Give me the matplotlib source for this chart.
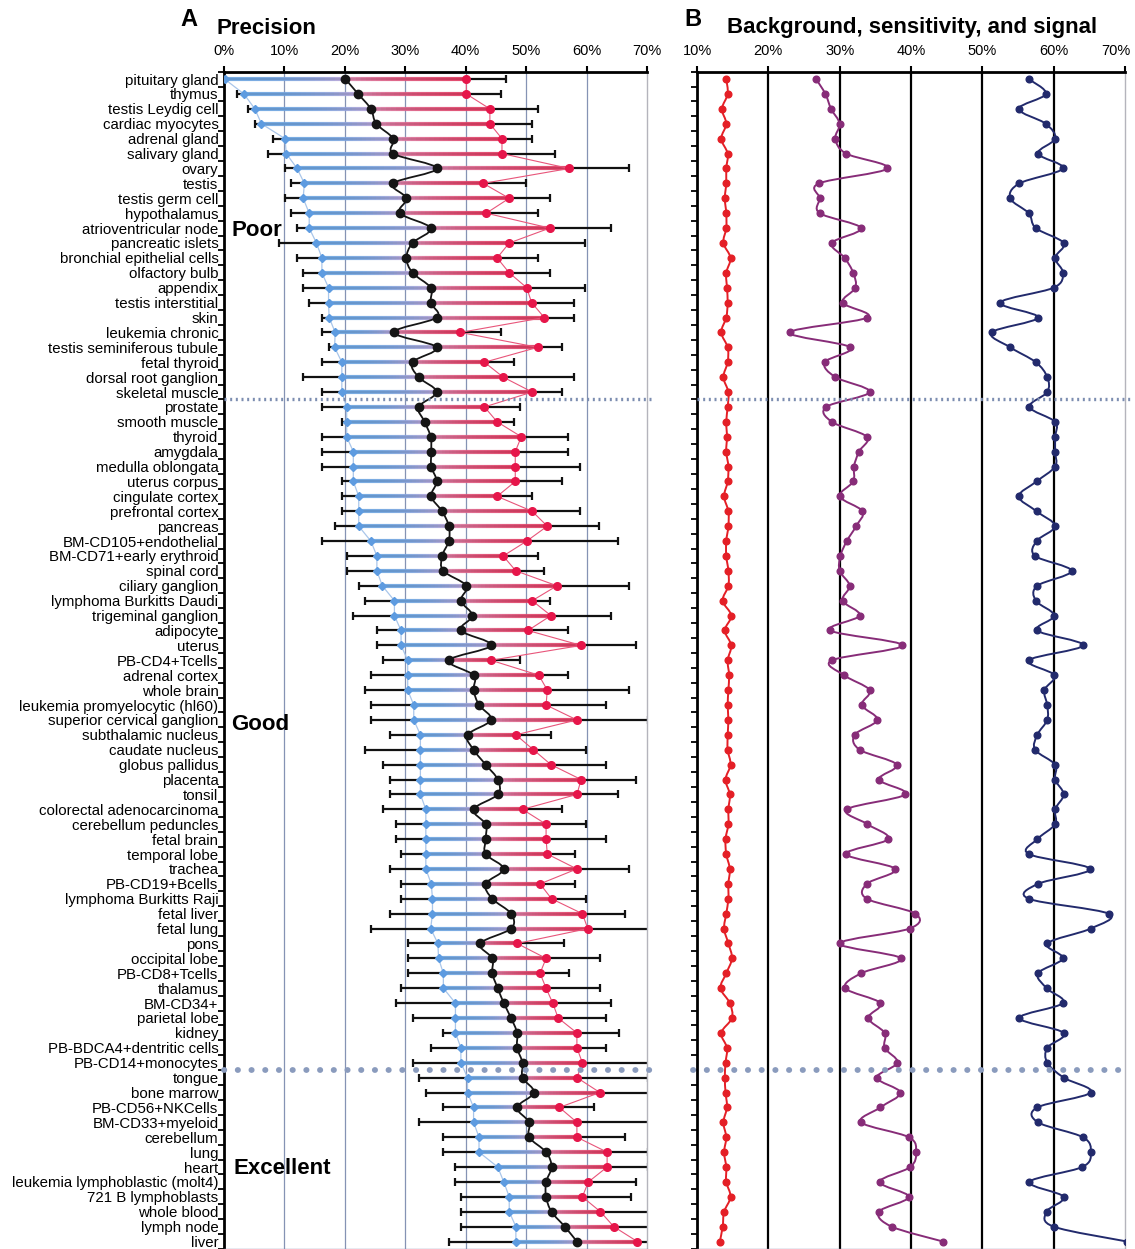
import numpy as np
import matplotlib
matplotlib.use('Agg')
import matplotlib.pyplot as plt
import matplotlib.transforms as mtransforms
from matplotlib.collections import LineCollection
from matplotlib.path import Path
from matplotlib.patches import PathPatch
from matplotlib.colors import to_rgb
from matplotlib.ticker import FixedLocator

# ---------------- data ----------------
tissues = [
    "pituitary gland", "thymus", "testis Leydig cell", "cardiac myocytes", "adrenal gland",
    "salivary gland", "ovary", "testis", "testis germ cell", "hypothalamus",
    "atrioventricular node", "pancreatic islets", "bronchial epithelial cells", "olfactory bulb",
    "appendix", "testis interstitial", "skin", "leukemia chronic", "testis seminiferous tubule",
    "fetal thyroid", "dorsal root ganglion", "skeletal muscle",
    "prostate", "smooth muscle", "thyroid", "amygdala", "medulla oblongata", "uterus corpus",
    "cingulate cortex", "prefrontal cortex", "pancreas", "BM-CD105+endothelial",
    "BM-CD71+early erythroid", "spinal cord", "ciliary ganglion", "lymphoma Burkitts Daudi",
    "trigeminal ganglion", "adipocyte", "uterus", "PB-CD4+Tcells", "adrenal cortex",
    "whole brain", "leukemia promyelocytic (hl60)", "superior cervical ganglion",
    "subthalamic nucleus", "caudate nucleus", "globus pallidus", "placenta", "tonsil",
    "colorectal adenocarcinoma", "cerebellum peduncles", "fetal brain", "temporal lobe",
    "trachea", "PB-CD19+Bcells", "lymphoma Burkitts Raji", "fetal liver", "fetal lung",
    "pons", "occipital lobe", "PB-CD8+Tcells", "thalamus", "BM-CD34+", "parietal lobe",
    "kidney", "PB-BDCA4+dentritic cells", "PB-CD14+monocytes",
    "tongue", "bone marrow", "PB-CD56+NKCells", "BM-CD33+myeloid", "cerebellum", "lung",
    "heart", "leukemia lymphoblastic (molt4)", "721 B lymphoblasts", "whole blood",
    "lymph node", "liver",
]

precision_low = [
    0.1, 3.3, 5.1, 6.2, 10.1, 10.3, 12.1, 13.3, 13.1, 14.1, 14.1, 15.3, 16.2, 16.2, 17.3,
    17.3, 17.4, 18.4, 18.3, 19.5, 19.5, 19.5, 20.3, 20.3, 20.3, 21.4, 21.4, 21.4, 22.3, 22.3,
    22.3, 24.3, 25.3, 25.3, 26.2, 28.2, 28.2, 29.3, 29.3, 30.4, 30.4, 30.4, 31.4, 31.4, 32.5,
    32.5, 32.5, 32.5, 32.5, 33.4, 33.4, 33.4, 33.4, 33.4, 34.3, 34.5, 34.5, 34.2, 35.4, 35.5,
    36.3, 36.3, 38.3, 38.3, 38.3, 39.2, 39.2, 40.3, 40.3, 41.3, 41.3, 42.2, 42.2, 45.3, 46.3,
    47.2, 47.2, 48.3, 48.3,
]
precision_mid = [
    20.1, 22.2, 24.3, 25.2, 28.0, 28.0, 35.2, 28.0, 30.2, 29.1, 34.2, 31.2, 30.2, 31.2, 34.2,
    34.2, 35.2, 28.1, 35.2, 31.2, 32.2, 35.2, 32.2, 33.2, 34.2, 34.3, 34.3, 35.2, 34.3, 36.1,
    37.2, 37.2, 36.1, 36.3, 40.1, 39.2, 41.1, 39.2, 44.2, 37.2, 41.3, 41.3, 42.2, 44.2, 40.3,
    41.3, 43.3, 45.3, 45.3, 41.3, 43.3, 43.3, 43.3, 46.3, 43.3, 44.4, 47.5, 47.5, 42.4, 44.4,
    44.4, 45.3, 46.3, 47.5, 48.5, 48.5, 49.4, 49.4, 51.3, 48.5, 50.5, 50.5, 53.3, 54.2, 53.3,
    53.3, 54.2, 56.4, 58.4,
]
precision_high = [
    40.1, 40.1, 44.0, 44.0, 46.0, 46.0, 57.1, 42.9, 47.2, 43.4, 53.9, 47.2, 45.2, 47.2, 50.1,
    50.9, 53.0, 39.1, 51.9, 43.1, 46.2, 51.0, 43.1, 45.2, 49.2, 48.2, 48.2, 48.2, 45.2, 51.0,
    53.5, 50.1, 46.2, 48.3, 55.1, 51.0, 54.1, 50.3, 59.1, 44.2, 52.1, 53.5, 53.3, 58.4, 48.3,
    51.2, 54.1, 59.1, 58.4, 49.4, 53.3, 53.3, 53.5, 58.4, 52.3, 54.2, 59.3, 60.2, 48.5, 53.3,
    52.3, 53.3, 54.4, 55.3, 58.4, 58.4, 59.3, 58.4, 62.2, 55.5, 58.4, 58.4, 63.4, 63.4, 60.3,
    59.3, 62.3, 64.5, 68.4,
]
err_low = [
    0.0, 2.2, 4.0, 5.1, 8.1, 7.3, 10.1, 11.1, 10.1, 11.1, 12.1, 9.1, 12.1, 13.1, 13.1, 14.1,
    16.2, 16.2, 17.3, 16.2, 13.1, 16.2, 16.2, 19.5, 16.2, 16.2, 16.2, 19.5, 19.5, 19.5, 18.3,
    16.2, 20.3, 20.3, 22.3, 23.3, 21.4, 25.3, 25.3, 26.3, 24.3, 23.3, 24.3, 24.3, 27.4, 23.3,
    26.3, 27.4, 27.4, 26.3, 28.4, 28.4, 29.3, 27.4, 29.3, 29.3, 27.4, 24.3, 30.4, 30.4, 30.4,
    29.3, 28.4, 31.3, 36.3, 34.3, 31.3, 32.2, 33.4, 36.3, 32.2, 36.3, 36.3, 38.3, 38.3, 39.2,
    39.2, 39.2, 37.2,
]
err_high = [
    46.7, 45.9, 51.9, 50.9, 50.9, 54.8, 67.0, 50.0, 53.9, 51.9, 64.0, 59.8, 51.9, 53.9, 59.8,
    58.0, 58.0, 45.9, 56.0, 48.0, 58.0, 56.0, 49.0, 48.0, 56.9, 56.9, 58.9, 56.0, 51.0, 58.9,
    62.1, 65.2, 51.9, 53.0, 67.1, 53.9, 64.1, 56.9, 68.1, 49.0, 56.9, 67.1, 63.2, 70.2, 54.1,
    59.9, 63.2, 68.1, 65.2, 56.0, 59.9, 63.2, 58.1, 67.1, 58.1, 59.9, 66.3, 70.9, 56.2, 62.2,
    57.1, 62.2, 64.1, 63.2, 65.4, 63.2, 70.9, 70.2, 70.9, 61.2, 70.9, 66.3, 70.2, 70.2, 68.1,
    67.3, 70.9, 70.9, 70.9,
]

background = [
    14.1, 14.3, 13.5, 14.1, 13.4, 14.3, 14.1, 14.1, 13.9, 14.1, 14.1, 13.7, 14.7, 14.1, 14.2,
    14.3, 14.1, 13.4, 14.3, 14.3, 13.7, 14.4, 14.3, 14.1, 14.2, 14.1, 14.4, 14.3, 13.8, 14.4,
    14.4, 14.1, 14.1, 14.4, 14.4, 13.6, 14.8, 13.9, 14.8, 14.3, 14.5, 14.4, 14.3, 14.4, 14.3,
    14.3, 14.7, 14.0, 14.6, 14.4, 14.4, 14.0, 14.1, 14.6, 14.4, 14.4, 14.1, 13.8, 14.4, 14.9,
    14.1, 13.3, 14.6, 14.9, 13.4, 14.2, 14.0, 13.9, 14.0, 14.2, 13.7, 14.1, 13.8, 14.1, 14.1,
    14.7, 13.8, 13.6, 13.2,
]
sensitivity = [
    26.7, 28.0, 28.8, 30.0, 29.4, 30.9, 36.7, 27.1, 27.2, 27.2, 33.0, 28.9, 30.7, 31.9, 32.2,
    30.4, 33.9, 23.0, 31.5, 27.9, 29.4, 34.2, 28.1, 28.9, 33.8, 32.7, 32.0, 31.9, 30.0, 33.2,
    32.3, 31.0, 30.1, 30.0, 31.4, 30.4, 32.8, 28.7, 38.8, 28.9, 30.6, 34.2, 33.1, 35.3, 32.1,
    32.8, 38.0, 35.5, 39.2, 31.0, 33.9, 36.8, 30.9, 37.8, 33.8, 33.8, 40.6, 39.8, 30.0, 38.6,
    33.0, 30.8, 35.7, 34.0, 36.3, 36.3, 38.1, 35.2, 38.5, 35.7, 33.0, 39.7, 40.7, 39.9, 35.6,
    39.7, 35.5, 37.3, 44.5,
]
signal = [
    56.5, 58.9, 55.1, 58.9, 60.2, 57.8, 61.3, 55.2, 53.9, 56.5, 57.5, 61.4, 60.2, 61.3, 60.0,
    52.5, 57.8, 51.3, 53.9, 57.5, 59.1, 59.1, 56.6, 60.2, 60.2, 60.2, 60.2, 57.6, 55.1, 57.6,
    60.2, 57.6, 57.4, 62.5, 57.7, 57.5, 60.1, 57.7, 64.1, 56.5, 60.1, 58.7, 59.1, 59.1, 57.7,
    57.4, 60.2, 60.2, 61.4, 60.2, 60.2, 57.7, 56.5, 65.1, 57.8, 56.5, 67.7, 65.2, 59.1, 61.3,
    57.8, 59.0, 61.3, 55.2, 61.4, 59.1, 59.1, 61.4, 65.2, 57.7, 57.8, 64.1, 65.2, 64.0, 56.6,
    61.4, 59.0, 60.0, 70.3,
]

xticks_a = [0, 10, 20, 30, 40, 50, 60, 70]
xticks_b = [10, 20, 30, 40, 50, 60, 70]
group_names = ["Poor", "Good", "Excellent"]
group_last_row = [22, 67]   # last tissue of the Poor and Good groups

# ---------------- style ----------------
LABEL_FONT = ['Liberation Sans', 'DejaVu Sans']
plt.rcParams['font.family'] = LABEL_FONT

n = len(tissues)
rows = np.arange(1, n + 1)

W, H = 1135, 1249
fig = plt.figure(figsize=(W / 100, H / 100), dpi=100)
fig.patch.set_facecolor('white')

axA = fig.add_axes([224 / W, 0.0, (647 - 224) / W, 1 - 71.6 / H])
axB = fig.add_axes([697 / W, 0.0, (1125 - 697) / W, 1 - 71.6 / H])


def smooth_path(x, y):
    pts = np.column_stack([np.asarray(x, float), np.asarray(y, float)])
    m = len(pts)
    verts = [pts[0]]
    codes = [Path.MOVETO]
    for i in range(m - 1):
        p0 = pts[i - 1] if i > 0 else pts[i]
        p1 = pts[i]
        p2 = pts[i + 1]
        p3 = pts[i + 2] if i + 2 < m else pts[i + 1]
        verts += [p1 + (p2 - p0) / 6.0, p2 - (p3 - p1) / 6.0, p2]
        codes += [Path.CURVE4] * 3
    return Path(verts, codes)


def setup_axis(ax, xlim, xticks, labels):
    ax.set_xlim(*xlim)
    ax.set_ylim(n + 0.5, 0.5)
    ax.xaxis.tick_top()
    ax.set_xticks(xticks)
    ax.set_xticklabels([f"{v}%" for v in xticks])
    ax.tick_params(axis='x', which='major', direction='out', length=4, width=1.5,
                   pad=6, labelsize=10.5)
    ax.yaxis.set_major_locator(FixedLocator(np.arange(0.5, n + 1.0, 1.0)))
    ax.yaxis.set_major_formatter(plt.NullFormatter())
    ax.yaxis.set_minor_locator(FixedLocator(rows))
    if labels:
        ax.set_yticklabels(tissues, minor=True, fontsize=10.8)
    else:
        ax.set_yticklabels([""] * n, minor=True)
    ax.tick_params(axis='y', which='major', direction='out', length=4.5, width=1.3)
    ax.tick_params(axis='y', which='minor', length=0, pad=4)
    for s in ('top', 'left'):
        ax.spines[s].set_linewidth(2.0)
        ax.spines[s].set_color('black')
    ax.spines['right'].set_linewidth(1.0)
    ax.spines['right'].set_color('#b4b4bc')
    ax.spines['bottom'].set_linewidth(1.0)
    ax.spines['bottom'].set_color('#8a98b8')


# ---------------- Panel A ----------------
setup_axis(axA, (0, 70), xticks_a, True)
for v in xticks_a[1:-1]:
    axA.axvline(v, color='#8593b4', lw=0.9, zorder=0)

low = np.array(precision_low)
mid = np.array(precision_mid)
high = np.array(precision_high)
elo = np.array(err_low)
ehi = np.array(err_high)

# error bars
axA.errorbar(mid, rows, xerr=[mid - elo, ehi - mid], fmt='none', ecolor='#111111',
             elinewidth=1.6, capsize=3.2, capthick=1.6, zorder=1)

# gradient bars
blue_c = np.array(to_rgb('#6ea6e2'))
lav_c = np.array(to_rgb('#bba4d8'))
pink_c = np.array(to_rgb('#d8a0c8'))
red_c = np.array(to_rgb('#e23a60'))
segs, cols = [], []
nsub = 24
for i in range(n):
    y = rows[i]
    xs = np.linspace(low[i], mid[i], nsub + 1)
    for k in range(nsub):
        t = ((k + 0.5) / nsub) ** 2.5
        segs.append([(xs[k], y), (xs[k + 1], y)])
        cols.append(tuple(blue_c * (1 - t) + lav_c * t))
    xs = np.linspace(mid[i], high[i], nsub + 1)
    for k in range(nsub):
        t = ((k + 0.5) / nsub) ** 0.45
        segs.append([(xs[k], y), (xs[k + 1], y)])
        cols.append(tuple(pink_c * (1 - t) + red_c * t))
axA.add_collection(LineCollection(segs, colors=cols, linewidths=3.0, alpha=0.9,
                                  zorder=2, capstyle='butt'))

# connecting lines
axA.plot(low, rows, color='#a9c6ea', lw=0.9, zorder=3)
axA.plot(high, rows, color='#e8557a', lw=0.8, zorder=3)
axA.add_patch(PathPatch(smooth_path(mid, rows), fill=False, edgecolor='#151515',
                        lw=1.3, zorder=3))
# points
axA.plot(low, rows, ls='none', marker='D', ms=3.6, color='#5d9be0', zorder=4)
axA.plot(high, rows, ls='none', marker='o', ms=5.5, color='#e6164a', zorder=4)
axA.plot(mid, rows, ls='none', marker='o', ms=6, color='#151515', zorder=5)

# group labels
axA.text(1.2, 11.15, group_names[0], fontsize=16, fontweight='bold', va='center',
         ha='left', zorder=6)
axA.text(1.2, 44.3, group_names[1], fontsize=16, fontweight='bold', va='center',
         ha='left', zorder=6)
axA.text(1.5, 74.1, group_names[2], fontsize=16, fontweight='bold', va='center',
         ha='left', zorder=6)

# ---------------- Panel B ----------------
setup_axis(axB, (10, 70), xticks_b, False)
for v in xticks_b[1:-1]:
    axB.axvline(v, color='black', lw=1.6, zorder=0)

# last tick label of panel B is nudged left so it stays inside the figure
last_lbl = axB.get_xticklabels()[-1]
last_lbl.set_transform(last_lbl.get_transform() +
                       mtransforms.ScaledTranslation(-9 / 100, 0, fig.dpi_scale_trans))

for data, col in ((background, '#e41f26'), (sensitivity, '#872c78'), (signal, '#222a6c')):
    axB.add_patch(PathPatch(smooth_path(data, rows), fill=False, edgecolor=col,
                            lw=1.4, zorder=3))
    axB.plot(data, rows, ls='none', marker='o', ms=4.8, color=col, zorder=4)

# group separators
for ax in (axA, axB):
    b = group_last_row[0] + 0.5
    ax.plot([0, 1.012], [b, b], transform=ax.get_yaxis_transform(), color='#7c8db0',
            lw=2.4, ls=(0, (0.6, 1.1)), clip_on=False, zorder=6)
    b = group_last_row[1] + 0.5
    ax.plot([-0.01 if ax is axB else 0.0, 1.012], [b, b], transform=ax.get_yaxis_transform(),
            color='#8a9bbd', lw=4.2, ls=(0, (0.05, 2.3)), dash_capstyle='round',
            clip_on=False, zorder=6)

# ---------------- titles ----------------
fig.text(180 / W, 1 - 20 / H, "A", fontsize=17, fontweight='bold', va='center', ha='left')
fig.text(217 / W, 1 - 29 / H, "Precision", fontsize=16, fontweight='bold', va='center',
         ha='left')
fig.text(684 / W, 1 - 19 / H, "B", fontsize=17, fontweight='bold', va='center', ha='left')
fig.text(727 / W, 1 - 28 / H, "Background, sensitivity, and signal", fontsize=16,
         fontweight='bold', va='center', ha='left')

fig.savefig('out.png', dpi=100, facecolor='white')
